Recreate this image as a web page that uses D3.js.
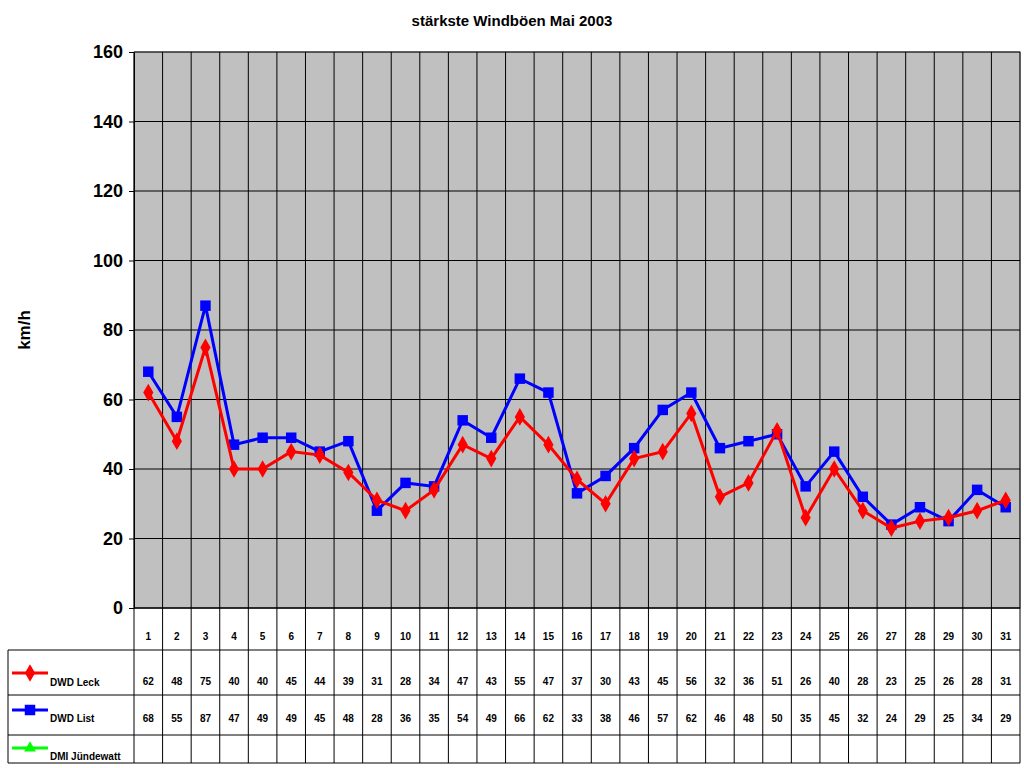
<!DOCTYPE html>
<html><head><meta charset="utf-8">
<script src="https://cdn.jsdelivr.net/npm/d3@7"></script>
<style>body{margin:0;background:#fff}svg{font-family:"Liberation Sans",Arial,sans-serif}</style>
</head><body><svg id="c" width="1024" height="768"></svg>
<script>
var days = d3.range(1, 32);
var leck = [62,48,75,40,40,45,44,39,31,28,34,47,43,55,47,37,30,43,45,56,32,36,51,26,40,28,23,25,26,28,31];
var list = [68,55,87,47,49,49,45,48,28,36,35,54,49,66,62,33,38,46,57,62,46,48,50,35,45,32,24,29,25,34,29];
var yTicks = [0,20,40,60,80,100,120,140,160];

var svg = d3.select("#c");
var pLeft = 134, pRight = 1020, pTop = 52, pBottom = 608;
var x = d3.scaleBand().domain(days).range([pLeft, pRight]);
var y = d3.scaleLinear().domain([0, 160]).range([pBottom, pTop]);

svg.append("text").attr("x", 512).attr("y", 26).attr("text-anchor", "middle")
  .attr("font-size", 15).attr("font-weight", "bold").text("stärkste Windböen Mai 2003");

svg.append("rect").attr("x", pLeft).attr("y", pTop).attr("width", pRight - pLeft).attr("height", pBottom - pTop)
  .attr("fill", "#c0c0c0").attr("stroke", "#808080");

// horizontal gridlines
svg.selectAll(".hg").data(yTicks).enter().append("line")
  .attr("x1", pLeft).attr("x2", pRight).attr("y1", d => y(d)).attr("y2", d => y(d)).attr("stroke", "#000");

// vertical lines through plot and table
var bounds = days.map(d => x(d)).concat([pRight]);
svg.selectAll(".vg").data(bounds).enter().append("line")
  .attr("x1", d => d).attr("x2", d => d).attr("y1", pTop).attr("y2", 763).attr("stroke", "#000");

var yAxis = d3.axisLeft(y).tickValues(yTicks).tickSize(5).tickSizeOuter(0);
var ga = svg.append("g").attr("transform", "translate(" + pLeft + ",0)").call(yAxis);
ga.selectAll("text").attr("font-size", 18).attr("font-weight", "bold").attr("font-family", "Liberation Sans, Arial").attr("dx", -3);
ga.select(".domain").attr("stroke", "#000");

svg.append("text").attr("transform", "translate(30,330) rotate(-90)").attr("text-anchor", "middle")
  .attr("font-size", 17).attr("font-weight", "bold").text("km/h");

// table
var rows = [650, 695, 735, 763];
rows.forEach(function (r) {
  svg.append("line").attr("x1", 8).attr("x2", pRight).attr("y1", r).attr("y2", r).attr("stroke", "#000");
});
svg.append("line").attr("x1", 8).attr("x2", 8).attr("y1", 650).attr("y2", 763).attr("stroke", "#000");
svg.append("line").attr("x1", pLeft).attr("x2", pRight).attr("y1", pBottom).attr("y2", pBottom).attr("stroke", "#000");

function rowText(vals, ty) {
  svg.append("g").selectAll("text").data(vals).enter().append("text")
    .attr("x", (d, i) => x(days[i]) + x.bandwidth() / 2).attr("y", ty)
    .attr("text-anchor", "middle").attr("font-size", 10).attr("font-weight", "bold").text(d => d);
}
rowText(days, 640);
rowText(leck, 685);
rowText(list, 722);

var series = [
  {name: "DWD Leck", vals: leck, color: "#ff0000", sym: d3.symbolDiamond, size: 90, ly: 673, ty: 686},
  {name: "DWD List", vals: list, color: "#0000ff", sym: d3.symbolSquare, size: 110, ly: 710, ty: 722},
  {name: "DMI Jündewatt", vals: null, color: "#00ff00", sym: d3.symbolTriangle, size: 60, ly: 748, ty: 760}
];
var line = d3.line().x((d, i) => x(days[i]) + x.bandwidth() / 2).y(d => y(d));

series.forEach(function (s) {
  svg.append("line").attr("x1", 12).attr("x2", 48).attr("y1", s.ly).attr("y2", s.ly)
    .attr("stroke", s.color).attr("stroke-width", 3);
  svg.append("path").attr("d", d3.symbol(s.sym, s.size)()).attr("fill", s.color)
    .attr("transform", "translate(30," + s.ly + ")");
  svg.append("text").attr("x", 50).attr("y", s.ty).attr("font-size", 10).attr("font-weight", "bold").text(s.name);
});

[series[1], series[0]].forEach(function (s) {
  svg.append("path").datum(s.vals).attr("d", line).attr("fill", "none").attr("stroke", s.color).attr("stroke-width", 3);
  svg.append("g").selectAll("path").data(s.vals).enter().append("path")
    .attr("d", d3.symbol(s.sym, s.size)()).attr("fill", s.color)
    .attr("transform", (d, i) => "translate(" + (x(days[i]) + x.bandwidth() / 2) + "," + y(d) + ")");
});
</script></body></html>
